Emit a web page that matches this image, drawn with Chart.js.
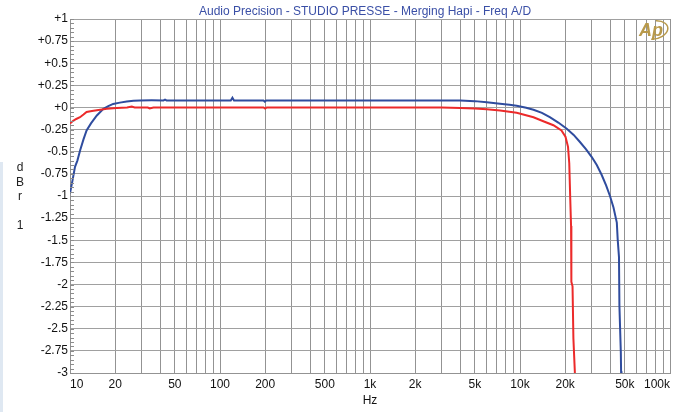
<!DOCTYPE html>
<html>
<head>
<meta charset="utf-8">
<script src="https://cdn.jsdelivr.net/npm/chart.js@4"></script>
<style>
    html, body { margin: 0; padding: 0; background: #fff; }
    #wrap { position: relative; width: 688px; height: 412px; }
    #strip { position: absolute; left: 0; top: 162px; width: 3px; height: 250px; background: #dfe8f2; }
</style>
</head>
<body>
<div id="wrap">
    <canvas id="chart" width="688" height="412"></canvas>
    <div id="strip"></div>
</div>
<script>
// Frequency response data (Hz, dBr)
const blueFreq = [10, 10.4, 10.8, 11.2, 11.7, 12.3, 12.9, 13.8, 15.1, 16.7, 18, 19.4, 21.5, 23.9, 26.5, 29.3, 35, 42, 43, 44,
    60, 80, 100, 118, 121, 124, 150, 195, 199, 203, 300, 500, 1000, 2000, 3000, 4000, 5000, 6000, 7360, 8500, 9500,
    11000, 12300, 14000, 15800, 18000, 20500, 22800, 25100, 27500, 30100, 32500, 35000, 37500, 39800, 42000, 44200,
    44800, 45700, 46000, 47000, 47200, 47500];
const blueLevel = [-0.97, -0.82, -0.67, -0.6, -0.48, -0.36, -0.26, -0.18, -0.09, -0.015, 0.015, 0.04, 0.055, 0.068, 0.076, 0.08, 0.081, 0.08, 0.088, 0.08,
    0.08, 0.08, 0.08, 0.08, 0.11, 0.08, 0.08, 0.08, 0.066, 0.08, 0.08, 0.08, 0.08, 0.08, 0.08, 0.078, 0.072, 0.06, 0.042, 0.03, 0.02,
    -0.002, -0.026, -0.06, -0.11, -0.17, -0.24, -0.31, -0.39, -0.47, -0.56, -0.65, -0.76, -0.88, -1.0, -1.13, -1.3,
    -1.49, -1.69, -2.24, -2.76, -2.98, -3.3];

const redFreq = [10, 10.5, 11, 11.66, 12.3, 12.9, 14, 15.1, 17.6, 20.5, 24, 25.8, 27, 33, 34, 36, 100, 195, 200, 205,
    1000, 3000, 4000, 5000, 6000, 7360, 9500, 12300, 14300, 16700, 18900, 20100, 20900, 21300, 21600, 21900, 22000,
    22400, 22700, 23200, 23400];
const redLevel = [-0.18, -0.15, -0.13, -0.11, -0.08, -0.05, -0.04, -0.03, -0.015, -0.005, 0, 0.01, 0, 0, -0.01, 0, 0, 0, -0.012, 0,
    0, 0, -0.005, -0.012, -0.02, -0.034, -0.06, -0.11, -0.155, -0.2, -0.26, -0.33, -0.445, -0.63, -1.0, -1.34, -1.97,
    -2.02, -2.61, -2.98, -3.3];

// Axis ticks
const xGridTicks = [10, 20, 30, 40, 50, 60, 70, 80, 90,
    100, 200, 300, 400, 500, 600, 700, 800, 900,
    1000, 2000, 3000, 4000, 5000, 6000, 7000, 8000, 9000,
    10000, 20000, 30000, 40000, 50000, 60000, 70000, 80000, 90000, 100000];
const xTickLabels = { 10: '10', 20: '20', 50: '50', 100: '100', 200: '200', 500: '500', 1000: '1k', 2000: '2k',
    5000: '5k', 10000: '10k', 20000: '20k', 50000: '50k', 100000: '100k' };
const yTickLabels = ['+1', '+0.75', '+0.5', '+0.25', '+0', '-0.25', '-0.5', '-0.75', '-1', '-1.25', '-1.5', '-1.75',
    '-2', '-2.25', '-2.5', '-2.75', '-3'];

const titleText = 'Audio Precision - STUDIO PRESSE - Merging Hapi - Freq A/D';
const unitLetters = ['d', 'B', 'r', '', '1'];

const FONT = "'Liberation Sans', Arial, sans-serif";

function toPoints(freqs, levels) {
    return freqs.map((f, i) => ({ x: f, y: levels[i] }));
}

// Title, unit label, minor y ticks and logo
const decorPlugin = {
    id: 'decor',
    afterDraw(chart) {
        const ctx = chart.ctx;
        const y = chart.scales.y;
        ctx.save();

        // minor ticks on y axis
        ctx.strokeStyle = '#8c8c8c';
        ctx.lineWidth = 1;
        ctx.beginPath();
        for (let i = 0; i <= 80; i++) {
            const py = Math.round(y.getPixelForValue(1 - i * 0.05)) + 0.5;
            ctx.moveTo(chart.chartArea.left, py);
            ctx.lineTo(chart.chartArea.left + 4, py);
        }
        ctx.stroke();

        // title
        ctx.fillStyle = '#3a4fa6';
        ctx.font = '12px ' + FONT;
        ctx.textAlign = 'center';
        ctx.textBaseline = 'middle';
        ctx.fillText(titleText, 365, 12);

        // dBr 1
        ctx.fillStyle = '#222';
        ctx.font = '12px ' + FONT;
        unitLetters.forEach((ch, i) => {
            if (ch) ctx.fillText(ch, 20, 168 + i * 14.5);
        });

        // AP logo
        ctx.fillStyle = '#b8994a';
        ctx.strokeStyle = '#b8994a';
        ctx.font = 'italic bold 18px ' + FONT;
        ctx.fillText('Ap', 651, 31);
        ctx.lineWidth = 1.5;
        ctx.beginPath();
        ctx.ellipse(654, 30, 14, 9, -0.2, -1.3, 1.9);
        ctx.stroke();

        ctx.restore();
    }
};

new Chart(document.getElementById('chart'), {
    type: 'line',
    data: {
        datasets: [
            {
                data: toPoints(redFreq, redLevel),
                borderColor: '#ec2a2a',
                borderWidth: 2,
                pointRadius: 0,
                tension: 0,
                clip: 0
            },
            {
                data: toPoints(blueFreq, blueLevel),
                borderColor: '#2f4c9e',
                borderWidth: 2,
                pointRadius: 0,
                tension: 0,
                clip: 0
            }
        ]
    },
    options: {
        responsive: false,
        animation: false,
        layout: { padding: { left: 0, right: 18, top: 19, bottom: 0 } },
        plugins: {
            legend: { display: false },
            tooltip: { enabled: false },
            title: { display: false }
        },
        scales: {
            x: {
                type: 'logarithmic',
                min: 10,
                max: 100000,
                afterBuildTicks: (scale) => {
                    scale.ticks = xGridTicks.map(v => ({ value: v }));
                },
                afterFit: (scale) => { scale.height = 39; },
                grid: { color: '#939393', lineWidth: 1, drawTicks: false },
                border: { color: '#939393' },
                ticks: {
                    autoSkip: false,
                    maxRotation: 0,
                    align: 'inner',
                    padding: 4,
                    color: '#111',
                    font: { family: FONT, size: 12 },
                    callback: (value) => xTickLabels[value] || ''
                },
                title: {
                    display: true,
                    text: 'Hz',
                    color: '#111',
                    font: { family: FONT, size: 12 },
                    padding: { top: 2, bottom: 4 }
                }
            },
            y: {
                min: -3,
                max: 1,
                afterBuildTicks: (scale) => {
                    scale.ticks = yTickLabels.map((t, i) => ({ value: 1 - i * 0.25 }));
                },
                afterFit: (scale) => { scale.width = 70; },
                grid: { color: '#a0a0a0', lineWidth: 1, drawTicks: false },
                border: { color: '#939393' },
                ticks: {
                    padding: 2,
                    color: '#111',
                    font: { family: FONT, size: 12 },
                    callback: (value, index) => yTickLabels[index]
                }
            }
        }
    },
    plugins: [decorPlugin]
});
</script>
</body>
</html>
